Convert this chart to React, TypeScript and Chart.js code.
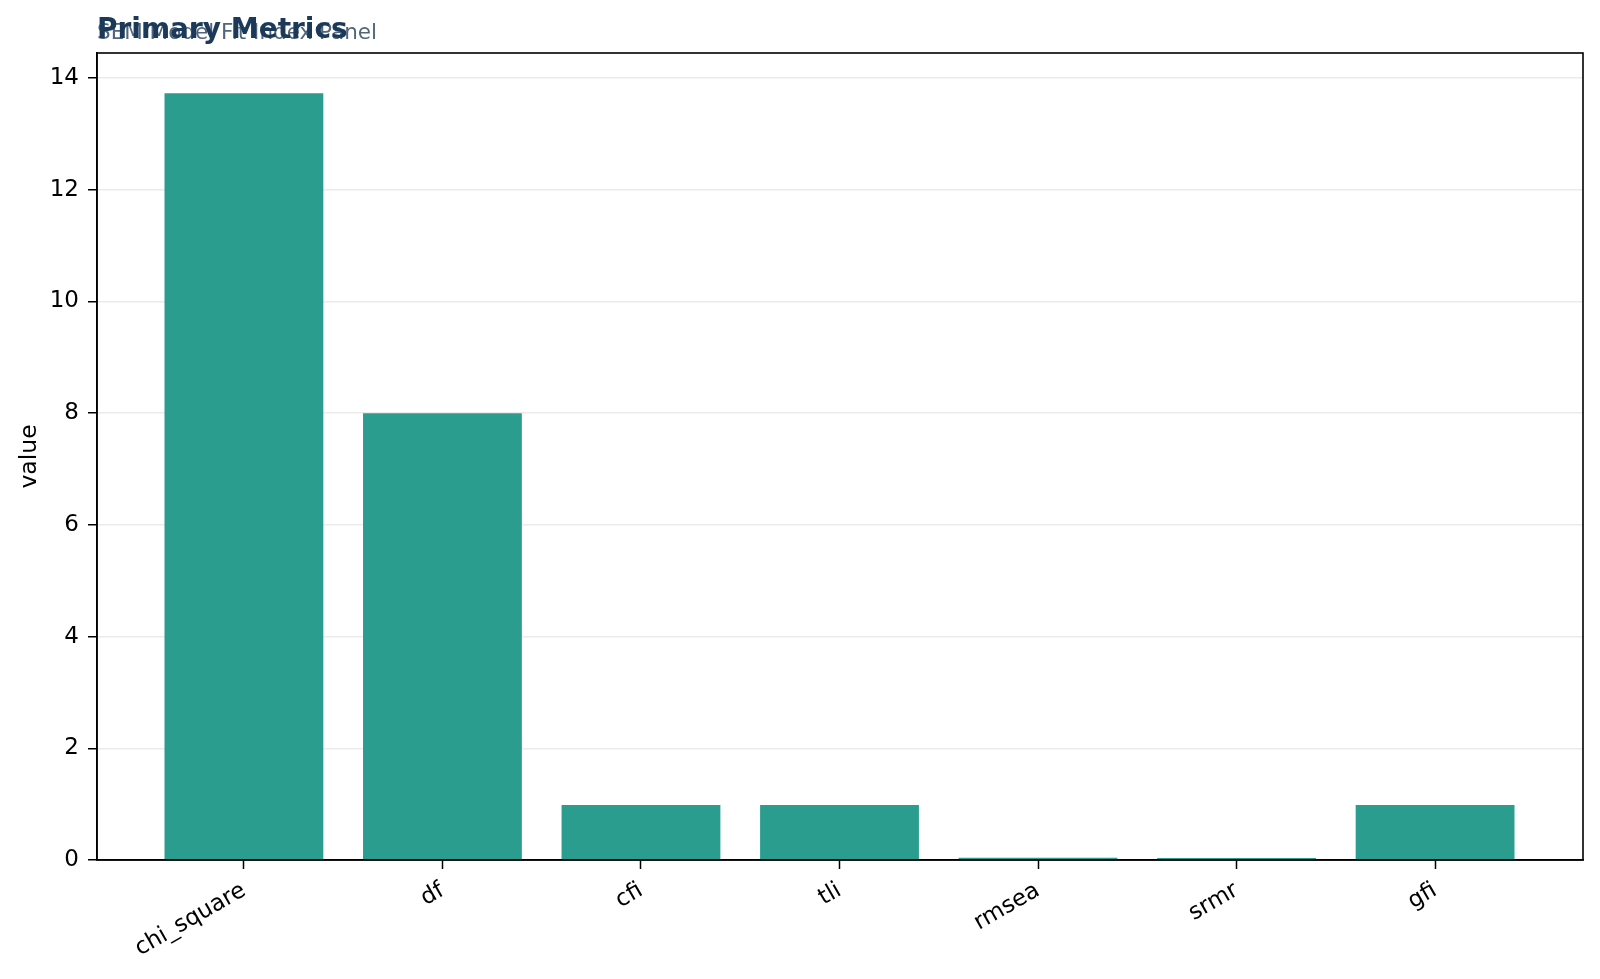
import { Chart, ChartConfiguration, registerables } from "chart.js";
import { useEffect, useRef } from "react";

Chart.register(...registerables);

const metricNames: string[] = ["chi_square", "df", "cfi", "tli", "rmsea", "srmr", "gfi"];
const metricValues: number[] = [13.73, 8, 0.985, 0.985, 0.042, 0.035, 0.985];
const yTicks: number[] = [0, 2, 4, 6, 8, 10, 12, 14];

const chartTitle = "Primary Metrics";
const chartSubtitle = "SEM Model Fit Index Panel";

const FONT = "'DejaVu Sans', sans-serif";

// full box around the plot area + overlapping title/subtitle (like the original figure)
const framePlugin = {
  id: "frame",
  afterDraw(chart: Chart) {
    const { ctx, chartArea } = chart;
    ctx.save();
    ctx.strokeStyle = "#000";
    ctx.lineWidth = 1.6;
    ctx.strokeRect(chartArea.left, chartArea.top, chartArea.right - chartArea.left, chartArea.bottom - chartArea.top);

    ctx.textBaseline = "alphabetic";
    ctx.textAlign = "left";
    ctx.fillStyle = "rgba(50, 75, 100, 0.85)";
    ctx.font = `21.5px ${FONT}`;
    ctx.fillText(chartSubtitle, chartArea.left, 39);
    ctx.fillStyle = "#1b3a5a";
    ctx.font = `bold 28px ${FONT}`;
    ctx.fillText(chartTitle, chartArea.left, 38);
    ctx.restore();
  },
};

const App: React.FC = () => {
  const canvasRef = useRef<HTMLCanvasElement | null>(null);
  const chartRef = useRef<Chart | null>(null);

  useEffect(() => {
    const points = metricValues.map((v, i) => ({ x: i, y: v }));

    const config: ChartConfiguration = {
      type: "bar",
      data: {
        datasets: [
          {
            label: "value",
            data: points,
            backgroundColor: "#2a9d8f",
            borderWidth: 0,
            barPercentage: 0.8,
            categoryPercentage: 1,
          },
        ],
      },
      options: {
        animation: false,
        responsive: true,
        maintainAspectRatio: false,
        layout: { padding: { left: 0, right: 17, top: 53, bottom: 0 } },
        plugins: {
          legend: { display: false },
          tooltip: { enabled: false },
        },
        scales: {
          x: {
            type: "linear",
            offset: false,
            min: -0.74,
            max: 6.745,
            afterFit: (scale) => {
              scale.height = 119;
            },
            grid: {
              offset: false,
              drawOnChartArea: false,
              drawTicks: true,
              tickLength: 9,
              tickWidth: 1.5,
              tickColor: "#000",
            },
            border: { display: true, color: "#000", width: 1.6 },
            ticks: {
              stepSize: 1,
              includeBounds: false,
              autoSkip: false,
              maxRotation: 30,
              minRotation: 30,
              padding: 8,
              color: "#000",
              font: { family: FONT, size: 23 },
              callback: (value) => {
                const v = Number(value);
                return Number.isInteger(v) && metricNames[v] !== undefined ? metricNames[v] : "";
              },
            },
          },
          y: {
            min: 0,
            max: 14.45,
            afterFit: (scale) => {
              scale.width = 97;
            },
            afterBuildTicks: (scale) => {
              scale.ticks = yTicks.map((v) => ({ value: v }));
            },
            grid: {
              color: "#ebebeb",
              lineWidth: 1.5,
              drawTicks: true,
              tickLength: 9,
              tickWidth: 1.5,
              tickColor: "#000",
            },
            border: { display: true, color: "#000", width: 1.6 },
            title: {
              display: true,
              text: "value",
              color: "#000",
              font: { family: FONT, size: 23.5 },
              padding: { top: 16, bottom: 0 },
            },
            ticks: {
              color: "#000",
              padding: 9,
              font: { family: FONT, size: 23 },
            },
          },
        },
      },
      plugins: [framePlugin],
    };

    if (chartRef.current) {
      chartRef.current.destroy();
    }
    if (canvasRef.current) {
      chartRef.current = new Chart(canvasRef.current, config);
    }
    return () => {
      if (chartRef.current) {
        chartRef.current.destroy();
        chartRef.current = null;
      }
    };
  }, []);

  return (
    <div style={{ position: "fixed", left: 0, top: 0, width: 1600, height: 979, background: "#fff" }}>
      <canvas ref={canvasRef} />
    </div>
  );
};

export default App;
